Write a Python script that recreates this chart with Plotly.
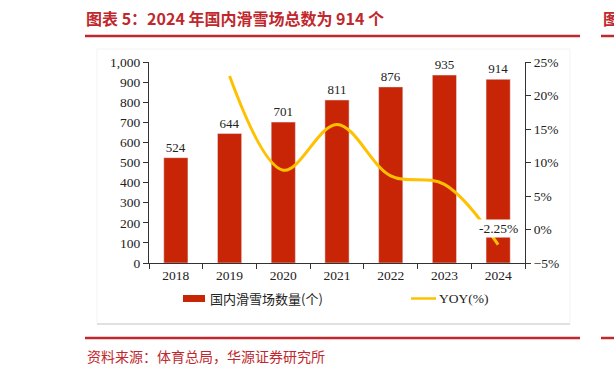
import plotly.graph_objects as go

years = ["2018", "2019", "2020", "2021", "2022", "2023", "2024"]
resorts = [524, 644, 701, 811, 876, 935, 914]
yoy = [None, 22.90, 8.85, 15.69, 8.01, 6.74, -2.25]

W, H = 614, 377
L, R, T, B = 149, 525, 62, 263  # plot area in pixels


def px(x):
    return (x - L) / (R - L)


def py(y):
    return (B - y) / (B - T)


RED = "#C0282D"
BAR = "#C82506"
GOLD = "#FFC000"
SERIF = "Liberation Serif, Times New Roman, serif"
CJK = "Noto Sans CJK SC"

fig = go.Figure()
fig.add_trace(go.Bar(
    x=years, y=resorts, marker_color=BAR, width=0.45,
    text=[str(v) for v in resorts], textposition="outside",
    textfont=dict(family=SERIF, size=13, color="#222"),
    cliponaxis=False, name="国内滑雪场数量(个)", showlegend=False,
))
fig.add_trace(go.Scatter(
    x=years, y=yoy, yaxis="y2", mode="lines",
    line=dict(color=GOLD, width=3, shape="spline", smoothing=1.0),
    name="YOY(%)", showlegend=False, connectgaps=False,
))

shapes = [
    dict(type="rect", xref="paper", yref="paper", x0=px(97), x1=px(570), y0=py(324), y1=py(49),
         line=dict(color="#F3F3F3", width=1), layer="below"),
    dict(type="line", xref="paper", yref="paper", x0=px(97), x1=px(570), y0=py(324), y1=py(324),
         line=dict(color="#C8C8C8", width=1)),
    dict(type="line", xref="paper", yref="paper", x0=px(85), x1=px(580), y0=py(36), y1=py(36),
         line=dict(color=RED, width=2.5)),
    dict(type="line", xref="paper", yref="paper", x0=px(85), x1=px(580), y0=py(338), y1=py(338),
         line=dict(color=RED, width=2.5)),
    dict(type="line", xref="paper", yref="paper", x0=px(601), x1=px(616), y0=py(36), y1=py(36),
         line=dict(color=RED, width=2.5)),
    dict(type="line", xref="paper", yref="paper", x0=px(601), x1=px(616), y0=py(338), y1=py(338),
         line=dict(color=RED, width=2.5)),
    dict(type="rect", xref="paper", yref="paper", x0=px(183), x1=px(205), y0=py(302), y1=py(295),
         fillcolor=BAR, line=dict(width=0)),
    dict(type="line", xref="paper", yref="paper", x0=px(411), x1=px(436), y0=py(298.5), y1=py(298.5),
         line=dict(color=GOLD, width=2.5)),
]

annotations = [
    dict(text="<b>图表 5：2024 年国内滑雪场总数为 914 个</b>", xref="paper", yref="paper",
         x=px(84), y=py(18), xanchor="left", yanchor="middle", showarrow=False,
         font=dict(family=CJK, size=16, color=RED)),
    dict(text="<b>图</b>", xref="paper", yref="paper",
         x=px(601), y=py(18), xanchor="left", yanchor="middle", showarrow=False,
         font=dict(family=CJK, size=16, color=RED)),
    dict(text="资料来源：体育总局，华源证券研究所", xref="paper", yref="paper",
         x=px(85), y=py(356), xanchor="left", yanchor="middle", showarrow=False,
         font=dict(family=CJK, size=14, color=RED)),
    dict(text="国内滑雪场数量(个)", xref="paper", yref="paper",
         x=px(208), y=py(298.5), xanchor="left", yanchor="middle", showarrow=False,
         font=dict(family=CJK, size=13, color="#222")),
    dict(text="YOY(%)", xref="paper", yref="paper",
         x=px(437), y=py(298.5), xanchor="left", yanchor="middle", showarrow=False,
         font=dict(family=SERIF, size=13.5, color="#222")),
    dict(text="-2.25%", x=len(years) - 1, xref="x", y=0.1, yref="y2",
         xanchor="center", yanchor="middle",
         showarrow=False, bgcolor="white", borderpad=1,
         font=dict(family=SERIF, size=13.5, color="#222")),
]

fig.update_layout(
    width=W, height=H,
    margin=dict(l=L, r=W - R, t=T, b=H - B),
    paper_bgcolor="white", plot_bgcolor="white",
    xaxis=dict(type="category", categoryorder="array", categoryarray=years,
               range=[-0.5, len(years) - 0.5], showline=True, linecolor="#333", linewidth=1,
               ticks="outside", ticklen=5, tickcolor="#333", tickson="boundaries",
               tickangle=0,
               tickfont=dict(family=SERIF, size=13.5, color="#222"), showgrid=False),
    yaxis=dict(range=[0, 1000], dtick=100, tickformat=",", showline=True, linecolor="#333",
               linewidth=1, ticks="outside", ticklen=5, tickcolor="#333", showgrid=False,
               zeroline=False, tickfont=dict(family=SERIF, size=13.5, color="#222")),
    yaxis2=dict(range=[-5, 25], dtick=5, ticksuffix="%", overlaying="y", side="right",
                showline=True, linecolor="#333", linewidth=1, ticks="outside", ticklen=5,
                tickcolor="#333", showgrid=False, zeroline=False,
                tickfont=dict(family=SERIF, size=13.5, color="#222")),
    shapes=shapes, annotations=annotations, showlegend=False,
)

fig.write_html("out.html")
